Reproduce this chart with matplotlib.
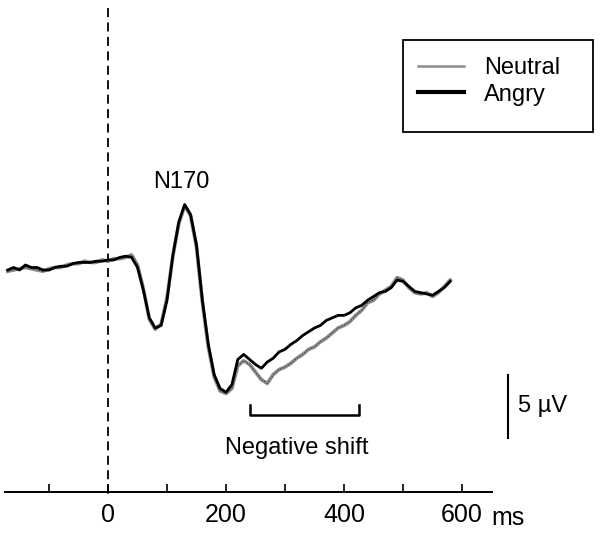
import matplotlib.pyplot as plt
from matplotlib.patches import Rectangle
from matplotlib.lines import Line2D

plt.rcParams['font.family'] = ['Liberation Sans', 'DejaVu Sans']

# time axis, ms after stimulus onset
time_ms = list(range(-170, 590, 10))

# grand-average ERP, microvolts (negative plotted upward)
angry_uv = [0.4, 0.2, 0.4, 0.0, 0.2, 0.2, 0.4, 0.4, 0.2, 0.1,
            0.1, -0.1, -0.2, -0.2, -0.2, -0.3, -0.3, -0.4, -0.4, -0.6,
            -0.7, -0.6, 0.2, 2.0, 4.2, 5.0, 4.8, 2.8, -0.8, -3.4,
            -4.8, -4.0, -1.6, 2.8, 6.3, 8.7, 9.8, 10.1, 9.5, 7.5,
            7.1, 7.5, 7.9, 8.2, 7.7, 7.4, 6.9, 6.7, 6.3, 6.0,
            5.6, 5.3, 5.0, 4.8, 4.4, 4.2, 4.0, 4.0, 3.8, 3.4,
            3.2, 2.8, 2.5, 2.2, 2.1, 1.8, 1.2, 1.3, 1.7, 2.1,
            2.2, 2.3, 2.4, 2.1, 1.8, 1.3]

neutral_uv = [0.5, 0.4, 0.3, 0.2, 0.3, 0.4, 0.5, 0.3, 0.2, 0.2,
              0.0, -0.1, -0.1, -0.3, -0.2, -0.2, -0.4, -0.3, -0.5, -0.5,
              -0.6, -0.8, 0.0, 1.9, 4.3, 5.1, 4.7, 2.6, -0.7, -3.3,
              -4.7, -3.9, -1.4, 3.0, 6.5, 8.9, 10.0, 10.2, 9.8, 8.0,
              7.6, 7.9, 8.5, 9.1, 9.4, 8.7, 8.3, 8.1, 7.8, 7.4,
              7.1, 6.7, 6.5, 6.1, 5.8, 5.4, 5.0, 4.8, 4.5, 4.0,
              3.6, 3.0, 2.8, 2.3, 2.0, 1.7, 1.0, 1.2, 1.8, 2.2,
              2.3, 2.2, 2.5, 2.2, 1.7, 1.2]

tick_ms = [-100, 0, 100, 200, 300, 400, 500, 600]
tick_text = ['', '0', '', '200', '', '400', '', '600']

shift_window = [241, 425]   # ms, "negative shift" bracket
scale_uv = 5

fig = plt.figure(figsize=(6.04, 5.37), dpi=100)
ax = fig.add_axes([0, 0, 1, 1])
ax.set_xlim(-183.05, 840.68)
ax.set_ylim(21.59, -21.03)

# traces
ax.plot(time_ms, neutral_uv, color='#8c8c8c', lw=2.6, zorder=3)
ax.plot(time_ms, neutral_uv, color='#3a3a3a', lw=0.8, ls=(0, (1, 1.6)), zorder=3)
ax.plot(time_ms, angry_uv, color='black', lw=2.0, zorder=4)

# stimulus onset
ax.plot([0, 0], [-20.4, 18.2], color='black', lw=1.3, ls=(0, (5, 3)))

# time axis
for side in ['top', 'left', 'right']:
    ax.spines[side].set_visible(False)
ax.spines['bottom'].set_position(('data', 18.0))
ax.spines['bottom'].set_bounds(-175, 651)
ax.spines['bottom'].set_linewidth(1.4)
ax.set_yticks([])
ax.set_xticks(tick_ms)
ax.set_xticklabels(tick_text, fontsize=18)
ax.tick_params(axis='x', direction='in', length=6, width=1.2, pad=8)
ax.text(650, 20.6, 'ms', fontsize=18, ha='left', va='baseline')

# annotations
ax.text(125, -6.1, 'N170', fontsize=17, ha='center', va='baseline')

ax.plot([shift_window[0], shift_window[0], shift_window[1], shift_window[1]],
        [11.1, 11.9, 11.9, 11.1], color='black', lw=1.8)
ax.text(sum(shift_window) / 2 - 13, 15.0, 'Negative shift', fontsize=17,
        ha='center', va='baseline')

# amplitude scale bar
ax.plot([678, 678], [8.7, 8.7 + scale_uv], color='black', lw=1.5)
ax.text(695, 11.7, '5 \u00b5V', fontsize=17, ha='left', va='baseline')

# legend inside a plain box
ax.add_patch(Rectangle((500, -17.86), 322, 7.3, fill=False, ec='black', lw=1.3))
handles = [Line2D([], [], color='#8c8c8c', lw=1.8),
           Line2D([], [], color='black', lw=3.0)]
ax.legend(handles, ['Neutral', 'Angry'], loc='upper left',
          bbox_to_anchor=(418 / 604, 1 - 57 / 537), fontsize=17, frameon=False,
          handlelength=1.95, handletextpad=0.85, labelspacing=0.2,
          borderpad=0, borderaxespad=0)

plt.savefig('out.png', dpi=100)
